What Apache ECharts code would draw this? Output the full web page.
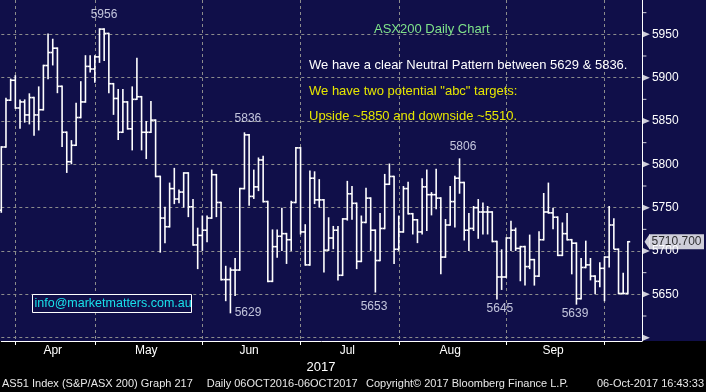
<!DOCTYPE html>
<html><head><meta charset="utf-8">
<script src="https://cdn.jsdelivr.net/npm/echarts@6/dist/echarts.min.js"></script>
<style>html,body{margin:0;padding:0;background:#000;}#c{width:706px;height:392px;}</style>
</head><body><div id="c"></div>
<script>
// ---- data (ASX200 daily OHLC) ----
const openP  = [5747,5820,5874,5897,5865,5872,5857,5877,5857,5863,5914,5929,5934,5890,5837,5803,5822,5854,5872,5913,5910,5924,5956,5951,5893,5876,5837,5872,5841,5875,5878,5837,5837,5851,5786,
5738,5728,5772,5760,5768,5790,5751,5707,5718,5724,5738,5788,5756,5667,5667,5678,5678,5772,5834,5763,5774,5805,5757,5665,5705,5717,5720,5713,5756,5819,5722,5684,5784,5759,
5759,5701,5715,5724,5672,5737,5766,5755,5688,5733,5761,5724,5689,5726,5777,5786,5702,5722,5772,5743,5736,5722,5774,5765,5765,5761,5693,5730,5757,5784,5779,5724,5726,5750,
5745,5745,5745,5711,5670,5670,5715,5724,5703,5705,5682,5690,5671,5713,5745,5744,5739,5695,5720,5713,5709,5645,5681,5684,5671,5665,5680,5693,5730,5702,5651,5651];
const highP  = [5820,5876,5898,5902,5874,5874,5881,5877,5889,5914,5950,5944,5934,5890,5837,5827,5870,5895,5925,5925,5925,5956,5956,5951,5893,5886,5886,5872,5889,5922,5878,5849,5872,5851,5786,
5750,5778,5795,5770,5790,5790,5759,5726,5740,5740,5793,5788,5756,5682,5680,5691,5772,5836,5834,5793,5807,5809,5757,5724,5724,5749,5720,5757,5819,5819,5730,5792,5791,5782,
5759,5738,5728,5728,5737,5780,5774,5755,5740,5772,5761,5724,5743,5788,5800,5786,5740,5774,5779,5743,5736,5783,5793,5767,5794,5761,5736,5774,5786,5806,5779,5743,5751,5759,
5755,5751,5745,5711,5701,5715,5734,5726,5705,5705,5718,5690,5722,5766,5778,5749,5739,5732,5743,5713,5709,5691,5711,5691,5671,5686,5693,5751,5737,5702,5674,5710.7];
const lowP   = [5745,5820,5874,5865,5842,5849,5847,5834,5840,5863,5899,5915,5883,5821,5791,5801,5822,5854,5872,5907,5895,5918,5920,5883,5858,5829,5837,5841,5817,5875,5817,5807,5837,5786,5699,
5710,5728,5755,5756,5751,5740,5707,5680,5701,5711,5738,5740,5667,5643,5629,5649,5678,5772,5753,5761,5770,5757,5665,5665,5693,5701,5686,5701,5756,5720,5684,5684,5755,5751,
5676,5701,5703,5667,5672,5736,5737,5680,5688,5733,5701,5653,5689,5726,5777,5686,5701,5722,5743,5720,5710,5720,5724,5742,5749,5674,5693,5730,5728,5767,5713,5701,5724,5715,
5720,5720,5711,5645,5656,5670,5701,5701,5666,5661,5680,5661,5671,5713,5744,5726,5695,5695,5713,5674,5639,5645,5681,5667,5651,5659,5643,5682,5703,5651,5651,5651];
const closeP = [5820,5874,5897,5865,5872,5857,5877,5857,5863,5914,5929,5934,5890,5837,5803,5822,5854,5872,5913,5910,5924,5956,5951,5893,5876,5837,5872,5841,5875,5878,5837,5837,5851,5786,5738,
5728,5772,5760,5768,5790,5751,5707,5718,5724,5738,5788,5756,5667,5667,5678,5678,5772,5834,5763,5774,5805,5757,5665,5705,5717,5720,5713,5756,5819,5722,5684,5784,5759,5759,
5701,5715,5724,5672,5737,5766,5755,5688,5733,5761,5724,5689,5726,5777,5786,5702,5722,5772,5743,5736,5722,5774,5765,5765,5761,5693,5730,5757,5784,5779,5724,5726,5750,5745,
5745,5745,5711,5670,5670,5715,5724,5703,5705,5682,5690,5671,5713,5745,5744,5739,5695,5720,5713,5709,5645,5681,5684,5671,5665,5680,5693,5730,5702,5651,5651,5710.7];
const lastPrice = 5710.7;

const monthNames    = ['Apr','May','Jun','Jul','Aug','Sep'];
const monthLabelIdx = [11, 31, 53, 74, 96, 118];
const monthStartIdx = [3, 20, 43, 64, 85, 108, 129];
const slotCount = 138;                 // trading-day slots on the x axis (incl. blank right margin)
const yTickLabels = [5650, 5700, 5750, 5800, 5850, 5900, 5950];
const yMajorMarks = [5600, 5650, 5700, 5750, 5800, 5850, 5900, 5950];
const yMinorMarks = [5625, 5675, 5725, 5775, 5825, 5875, 5925, 5975];

const annIdx = [21, 52, 98, 49, 80, 106, 123];
const annVal = [5956, 5836, 5806, 5629, 5653, 5645, 5639];

// ---- styling ----
const NAVY = '#100f49';
const FONT = '"Liberation Sans", Arial, sans-serif';
const annOffset = [[4.5,-14],[3.5,-14.6],[3.5,-12],[17.6,0.5],[-1.4,15.3],[3,10.3],[-1.4,10.1]];

const cats = Array.from({length: slotCount}, (_, i) => String(i));
const ohlc = openP.map((o, i) => [i, o, highP[i], lowP[i], closeP[i]]);
const edge = slotCount - 1;

const chart = echarts.init(document.getElementById('c'), null, {renderer: 'canvas'});
chart.setOption({
  animation: false,
  backgroundColor: '#000',
  grid: {left: 1.3, right: 64.1, top: 0, bottom: 51, outerBoundsMode: 'none', containLabel: false},
  xAxis: {
    type: 'category', data: cats, boundaryGap: false,
    axisLine: {show: true, lineStyle: {color: '#fff', width: 1}},
    axisTick: {show: true, interval: (i) => monthStartIdx.includes(i), length: 4, lineStyle: {color: '#fff'}},
    axisLabel: {show: true, interval: (i) => monthLabelIdx.includes(i),
      formatter: (v, i) => { const k = monthLabelIdx.indexOf(Number(v)); return k >= 0 ? monthNames[k] : ''; },
      color: '#fff', fontSize: 12, fontFamily: FONT, margin: 4},
    splitLine: {show: true, interval: (i) => monthStartIdx.includes(i), lineStyle: {color: '#8c8c8c', type: [3,3], width: 1}}
  },
  yAxis: {
    type: 'value', position: 'right', min: 5596.15, max: 5989.6, splitNumber: 7, scale: true,
    axisLine: {show: true, lineStyle: {color: '#fff', width: 1}},
    axisTick: {show: false},
    axisLabel: {show: true, color: '#fff', fontSize: 12, fontFamily: FONT, margin: 10,
      showMinLabel: false, showMaxLabel: false,
      formatter: (v) => yTickLabels.includes(Math.round(v)) && Math.abs(v - Math.round(v)) < 1e-6 ? String(Math.round(v)) : ''},
    splitLine: {show: true, showMinLine: false, showMaxLine: false, lineStyle: {color: '#8c8c8c', type: [3,3], width: 1}}
  },
  series: [
    {
      type: 'custom', name: 'AS51', data: ohlc, encode: {x: 0, y: [1,2,3,4]}, clip: false, z: 5,
      renderItem: function (params, api) {
        const i = api.value(0);
        const o = api.coord([i, api.value(1)]);
        const h = api.coord([i, api.value(2)]);
        const l = api.coord([i, api.value(3)]);
        const c = api.coord([i, api.value(4)]);
        const half = api.size([1, 0])[0] / 2;
        const st = {stroke: '#fff', lineWidth: 1.6, fill: null};
        return {type: 'group', children: [
          {type: 'line', shape: {x1: h[0], y1: h[1] - 0.8, x2: l[0], y2: l[1] + 0.8}, style: st},
          {type: 'line', shape: {x1: o[0] - half, y1: o[1], x2: o[0], y2: o[1]}, style: st},
          {type: 'line', shape: {x1: c[0], y1: c[1], x2: c[0] + half, y2: c[1]}, style: st}
        ]};
      }
    },
    {
      type: 'scatter', name: 'majorMarks', data: yMajorMarks.map(v => [edge, v]), clip: false,
      symbol: 'triangle', symbolRotate: -90, symbolSize: [6, 7], symbolOffset: [4.5, 0],
      itemStyle: {color: '#fff'}, silent: true, z: 6
    },
    {
      type: 'scatter', name: 'minorMarks', data: yMinorMarks.map(v => [edge, v]), clip: false,
      symbol: 'rect', symbolSize: [4, 1], symbolOffset: [2.5, 0],
      itemStyle: {color: '#fff'}, silent: true, z: 6
    },
    {
      type: 'scatter', name: 'lastBox', data: [[edge, lastPrice]], clip: false,
      symbol: 'rect', symbolSize: [55, 15], symbolOffset: [34.6, 0],
      itemStyle: {color: '#fff'}, silent: true, z: 7,
      label: {show: true, position: 'inside', formatter: () => lastPrice.toFixed(3), color: '#000',
        fontSize: 12, fontFamily: FONT}
    },
    {
      type: 'scatter', name: 'lastArrow', data: [[edge, lastPrice]], clip: false,
      symbol: 'triangle', symbolRotate: 90, symbolSize: [15, 5], symbolOffset: [5.1, 0],
      itemStyle: {color: '#fff'}, silent: true, z: 7
    },
    {
      type: 'scatter', name: 'extremes', clip: false, silent: true, z: 8,
      data: annIdx.map((x, k) => ({value: [x, annVal[k]],
        label: {show: true, position: 'inside', offset: annOffset[k], formatter: String(annVal[k]),
          color: '#eef0ff', fontSize: 12, fontFamily: FONT}})),
      symbol: 'circle', symbolSize: 1, itemStyle: {color: 'rgba(0,0,0,0)'}
    }
  ],
  graphic: [
    {type: 'rect', z: -100, shape: {x: 0, y: 0, width: 706, height: 341}, style: {fill: NAVY}},
    {type: 'text', x: 374, y: 29, z: 10, style: {text: 'ASX200 Daily Chart', fill: '#7fe38a', font: '13px ' + FONT, verticalAlign: 'middle'}},
    {type: 'text', x: 309, y: 65.5, z: 10, style: {text: 'We have a clear Neutral Pattern between 5629 & 5836.', fill: '#ffffff', font: '13px ' + FONT, verticalAlign: 'middle'}},
    {type: 'text', x: 309, y: 91.5, z: 10, style: {text: 'We have two potential "abc" targets:', fill: '#e6e600', font: '13px ' + FONT, verticalAlign: 'middle'}},
    {type: 'text', x: 309, y: 116.5, z: 10, style: {text: 'Upside ~5850 and downside ~5510.', fill: '#e6e600', font: '13px ' + FONT, verticalAlign: 'middle'}},
    {type: 'rect', z: 10, shape: {x: 32.5, y: 294.5, width: 159, height: 18}, style: {fill: NAVY, stroke: '#ffffff', lineWidth: 1}},
    {type: 'text', x: 34.5, y: 304, z: 11, style: {text: 'info@marketmatters.com.au', fill: '#19e0ea', font: '12.5px ' + FONT, verticalAlign: 'middle'}},
    {type: 'text', x: 321, y: 367, z: 10, style: {text: '2017', fill: '#ffffff', font: '13px ' + FONT, align: 'center', verticalAlign: 'middle'}},
    {type: 'text', x: 2, y: 384, z: 10, style: {text: 'AS51 Index (S&P/ASX 200) Graph 217', fill: '#e8e8e8', font: '11px ' + FONT, verticalAlign: 'middle'}},
    {type: 'text', x: 206.7, y: 384, z: 10, style: {text: 'Daily 06OCT2016-06OCT2017', fill: '#e8e8e8', font: '11px ' + FONT, verticalAlign: 'middle'}},
    {type: 'text', x: 366, y: 384, z: 10, style: {text: 'Copyright\u00a9 2017 Bloomberg Finance L.P.', fill: '#e8e8e8', font: '11px ' + FONT, verticalAlign: 'middle'}},
    {type: 'text', x: 704, y: 384, z: 10, style: {text: '06-Oct-2017 16:43:33', fill: '#e8e8e8', font: '11px ' + FONT, align: 'right', verticalAlign: 'middle'}}
  ]
});
</script></body></html>
